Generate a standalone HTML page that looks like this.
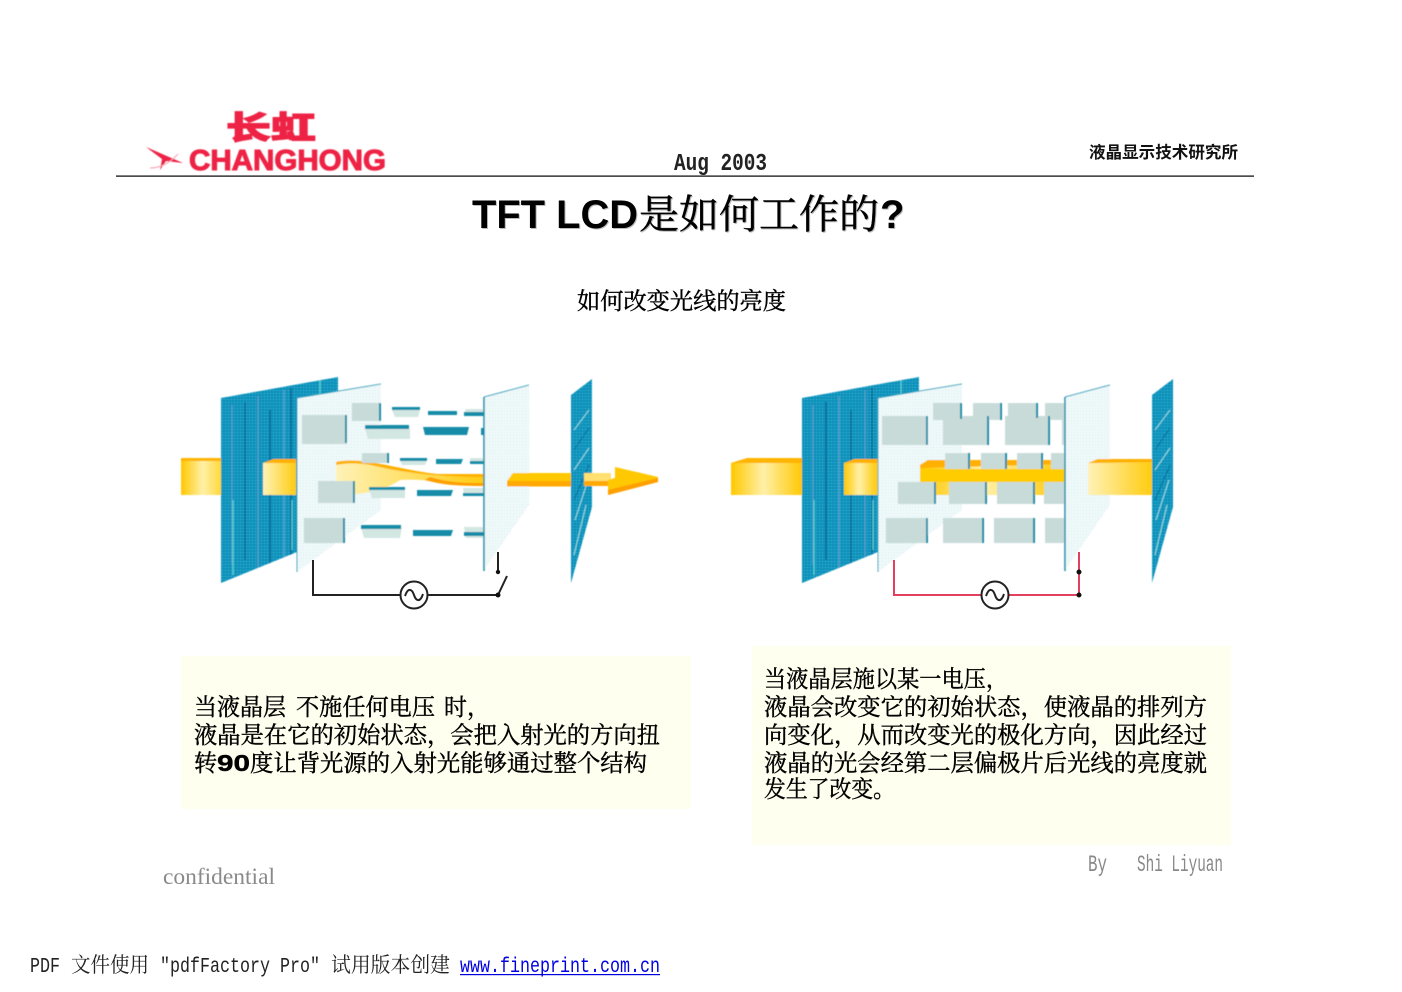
<!DOCTYPE html>
<html><head><meta charset="utf-8"><style>
html,body{margin:0;padding:0;background:#fff}
svg{display:block}
.cj{font-family:"Liberation Serif","Noto Serif CJK SC",serif;fill:#000;stroke:#000;stroke-width:.4}
.m{font-family:"Liberation Mono","Noto Serif CJK SC",monospace}
</style></head><body>
<svg xmlns="http://www.w3.org/2000/svg" width="1402" height="992" viewBox="0 0 1402 992">
<defs>
<pattern id="gd" width="3" height="3" patternUnits="userSpaceOnUse"><rect width="3" height="3" fill="#f4fbfb"/><rect width="1" height="1" fill="#c4e4e8"/><rect x="1.500" y="1.500" width="1" height="1" fill="#dcf0f2"/></pattern>
<pattern id="bd" width="3" height="3" patternUnits="userSpaceOnUse"><rect width="3" height="3" fill="#0790ba"/><rect width="1" height="1" fill="#3cc2dc"/></pattern>
<pattern id="kd" width="2" height="2" patternUnits="userSpaceOnUse"><rect width="2" height="2" fill="#cbdedb"/><rect width="1" height="1" fill="#bdd4d2"/></pattern>
<linearGradient id="y1" x1="0" x2="1" y1="0" y2="0"><stop offset="0" stop-color="#ffc800"/><stop offset=".55" stop-color="#fff0a8"/><stop offset="1" stop-color="#ffd93a"/></linearGradient>
<linearGradient id="y2" x1="0" x2="1" y1="0" y2="0"><stop offset="0" stop-color="#fff2b8"/><stop offset="1" stop-color="#ffcc10"/></linearGradient>
<linearGradient id="y3" x1="0" x2="1" y1="0" y2="0"><stop offset="0" stop-color="#ffc800"/><stop offset=".45" stop-color="#fff0a8"/><stop offset="1" stop-color="#ffc800"/></linearGradient>
<filter id="s" x="-5%" y="-5%" width="110%" height="110%"><feGaussianBlur stdDeviation=".4"/></filter>
<filter id="l" x="-5%" y="-20%" width="110%" height="140%"><feGaussianBlur stdDeviation=".6"/></filter>
<clipPath id="c1"><polygon points="221,398 338,377 338,392 297,552 221,583"/></clipPath>
<clipPath id="c2"><polygon points="802,398 919,377 919,392 878,552 802,583"/></clipPath>
</defs>
<rect width="1402" height="992" fill="#fff"/>

<!-- logo -->
<g filter="url(#l)" fill="#ee2244">
<text x="226" y="139" font-family="Noto Sans CJK SC,sans-serif" font-weight="900" font-size="32" textLength="90" lengthAdjust="spacingAndGlyphs" stroke="#ee2244" stroke-width="1">长虹</text>
<text x="189" y="170" font-family="Liberation Sans,sans-serif" font-weight="700" font-size="29" textLength="197" lengthAdjust="spacingAndGlyphs" stroke="#ee2244" stroke-width="1">CHANGHONG</text>
<polygon points="146,147 183,163 166,161 160,170 162,159"/>
<path d="M150 168 Q165 168 178 154" fill="none" stroke="#f4a0b0" stroke-width="1"/>
</g>
<rect x="116" y="175.500" width="1138" height="1.200" fill="#000"/>

<text x="674" y="170" class="m" font-size="24" textLength="93" lengthAdjust="spacingAndGlyphs" font-weight="700" fill="#222">Aug 2003</text>
<text x="1089" y="158" font-family="Noto Sans CJK SC,sans-serif" font-weight="700" font-size="16.500" textLength="149" lengthAdjust="spacingAndGlyphs" fill="#111">液晶显示技术研究所</text>

<g font-size="40" fill="#bbb">
<text x="473" y="229" font-family="Liberation Sans,sans-serif" font-weight="700" textLength="166" lengthAdjust="spacingAndGlyphs">TFT LCD</text>
<text x="640" y="229" font-family="Liberation Serif,'Noto Serif CJK SC',serif" textLength="240" lengthAdjust="spacingAndGlyphs" stroke="#bbb" stroke-width=".4">是如何工作的</text>
<text x="881" y="229" font-family="Liberation Sans,sans-serif" font-weight="700">?</text>
</g>
<g font-size="40" fill="#000">
<text x="472" y="228" font-family="Liberation Sans,sans-serif" font-weight="700" textLength="166" lengthAdjust="spacingAndGlyphs">TFT LCD</text>
<text x="639" y="228" font-family="Liberation Serif,'Noto Serif CJK SC',serif" textLength="240" lengthAdjust="spacingAndGlyphs" stroke="#000" stroke-width=".4">是如何工作的</text>
<text x="880" y="228" font-family="Liberation Sans,sans-serif" font-weight="700">?</text>
</g>
<text x="577" y="309" class="cj" font-size="23.200" textLength="209" lengthAdjust="spacingAndGlyphs">如何改变光线的亮度</text>

<!-- LEFT FIGURE -->
<g filter="url(#s)">
<polygon points="181,459 221,459 221,495 181,495" fill="url(#y1)"/>
<rect x="181" y="458" width="40" height="3" fill="#ffb400"/>
<polygon points="221,398 338,377 338,392 297,552 221,583" fill="url(#bd)"/>
<g stroke-width="1.300" fill="none" clip-path="url(#c1)">
<path d="M232 405V565M258 396V572M284 390V558" stroke="#5a9ccc"/>
<path d="M245 402V560M270 410V568M291 388V556" stroke="#0a5f90"/>
<path d="M233 500V575M292 500V550M320 380V400" stroke="#5fd0d0"/>
</g>
<polygon points="263,463 274,459 296,459 296,495 263,495" fill="url(#y2)"/>
<polygon points="263,463 274,459 296,459 296,463" fill="#ffb000"/>
<polygon points="297,398 381,384 381,510 297,572" fill="url(#gd)"/>
<path d="M297 398L381 384" stroke="#3aa6c0" stroke-width="1"/><path d="M297 398V572" stroke="#3aa6c0" stroke-width="1"/>
<path d="M336 462C362 456 400 470 437 474L484 474V486C450 486 430 478 400 480C385 490 365 495 336 495Z" fill="url(#y2)"/>
<path d="M336 462C362 456 400 470 437 474L484 474V477C450 477 410 474 380 467C360 462 345 463 336 465Z" fill="#ffb000"/>
<path d="M430 477C450 483 465 483 484 483V486C450 486 440 484 425 480Z" fill="#ff9f00"/>

<!-- left blocks -->
<g fill="url(#kd)">
<rect x="302" y="415" width="45" height="29"/><rect x="318" y="481" width="36" height="22"/><rect x="304" y="518" width="40" height="25"/><rect x="352" y="403" width="28" height="18"/><rect x="362" y="453" width="26" height="10"/>
</g>
<g fill="#128ca8">
<rect x="345" y="415" width="2" height="28"/><rect x="353" y="481" width="2" height="22"/><rect x="343" y="518" width="2" height="25"/><rect x="379" y="403" width="2" height="18"/><rect x="387" y="453" width="2" height="10"/>
</g>
<!-- dashes -->
<g fill="#d2e6e2">
<polygon points="392,410 420,410 418,417 395,417"/><polygon points="365,428 410,428 410,439 368,439"/><polygon points="400,460 427,460 425,465 402,465"/><polygon points="369,489 405,489 405,498 372,498"/><polygon points="361,527 402,527 400,538 364,538"/><polygon points="466,409 484,409 484,413 464,413"/><polygon points="463,488 484,488 484,495 464,495"/><polygon points="464,527 484,527 484,538 466,538"/><polygon points="470,458 484,458 484,464 470,464"/>
</g>
<g fill="#128ca8">
<rect x="392" y="407" width="28" height="3"/><rect x="428" y="411" width="29" height="4"/><rect x="464" y="412" width="20" height="4"/>
<rect x="365" y="425" width="44" height="4"/><polygon points="423,427 469,427 467,435 425,435"/><rect x="481" y="428" width="3" height="7"/>
<rect x="400" y="458" width="27" height="3"/><polygon points="436,459 463,459 461,464 436,464"/><rect x="470" y="461" width="14" height="3"/>
<rect x="369" y="487" width="36" height="3"/><polygon points="417,490 453,490 451,496 417,496"/><rect x="463" y="493" width="21" height="3"/>
<rect x="361" y="525" width="40" height="4"/><polygon points="413,530 453,530 451,536 413,536"/><rect x="464" y="532" width="20" height="4"/>
</g>
<polygon points="484,397 529,385 529,505 484,570" fill="url(#gd)"/>
<path d="M484 397L529 385" stroke="#3aa6c0" stroke-width="1"/><path d="M484 397V571" stroke="#128ca8" stroke-width="1.500"/>

<polygon points="507,481 513,473 571,473 571,486 507,486" fill="#ffc800"/>
<rect x="507" y="481" width="64" height="5.500" fill="#ffa800"/>
<polygon points="571,395 592,379 592,507 571,583" fill="url(#bd)"/>
<path d="M574 430L589 410M574 470L589 448M574 555L586 505M575 520L588 480" stroke="#9edde4" stroke-width="1" fill="none"/>
<path d="M574 450L589 428M574 500L589 465" stroke="#0a6d9a" stroke-width="1" fill="none"/>
<rect x="584" y="473" width="27" height="13" fill="#ffe070"/><rect x="584" y="481" width="27" height="5" fill="#ffa800"/>
<polygon points="615,467 658,477 658,482 608,495 608,480 615,478" fill="#ffc800"/>
<polygon points="608,490 658,478 658,482 608,495" fill="#ff9f00"/>
</g>
<g fill="none" stroke="#222" stroke-width="2">
<path d="M313 560V595H400M428 595H498L507 576"/><path d="M498 552V572" stroke-width="2"/>
<circle cx="414" cy="595" r="13.500"/><path d="M405 596C408 587 412 589 414 595C416 601 420 603 423 594"/>
</g>
<circle cx="498" cy="572" r="2.200" fill="#111"/><circle cx="498" cy="595" r="2.500" fill="#111"/>

<!-- RIGHT FIGURE -->
<g filter="url(#s)">
<polygon points="731,463 747,459 803,459 803,495 731,495" fill="url(#y3)"/>
<polygon points="731,463 747,458 803,458 803,463" fill="#ffb400"/>
<polygon points="802,398 919,377 919,392 878,552 802,583" fill="url(#bd)"/>
<g stroke-width="1.300" fill="none" clip-path="url(#c2)">
<path d="M813 405V565M839 396V572M865 390V558" stroke="#5a9ccc"/>
<path d="M826 402V560M851 410V568M872 388V556" stroke="#0a5f90"/>
<path d="M814 500V575M873 500V550M901 380V400" stroke="#5fd0d0"/>
</g>
<polygon points="844,463 855,459 878,459 878,495 844,495" fill="url(#y3)"/>
<polygon points="844,463 855,459 878,459 878,463" fill="#ffb000"/>
<polygon points="878,398 962,384 962,510 878,572" fill="url(#gd)"/>
<path d="M878 398L962 384" stroke="#3aa6c0" stroke-width="1"/><path d="M878 398V572" stroke="#3aa6c0" stroke-width="1"/>
<polygon points="920,465 928,460 1065,460 1065,495 920,495" fill="url(#y3)"/>
<rect x="920" y="469" width="145" height="13" fill="#ffcc00"/>
<polygon points="920,465 928,460 1065,460 1065,464 920,468" fill="#ffb000"/>
<g fill="url(#kd)">
<rect x="933" y="403" width="28" height="17"/><rect x="973" y="403" width="28" height="17"/><rect x="1008" y="403" width="28" height="17"/><rect x="1045" y="403" width="20" height="17"/>
<rect x="882" y="416" width="46" height="29"/><rect x="943" y="416" width="45" height="29"/><rect x="1005" y="416" width="44" height="29"/><rect x="1062" y="416" width="3" height="29"/>
<rect x="945" y="453" width="24" height="16"/><rect x="981" y="453" width="25" height="16"/><rect x="1017" y="453" width="25" height="16"/><rect x="1051" y="453" width="14" height="16"/>
<rect x="898" y="482" width="37" height="22"/><rect x="949" y="482" width="37" height="22"/><rect x="997" y="482" width="37" height="22"/><rect x="1044" y="482" width="21" height="22"/>
<rect x="886" y="518" width="41" height="25"/><rect x="943" y="518" width="40" height="25"/><rect x="994" y="518" width="40" height="25"/><rect x="1045" y="518" width="20" height="25"/>
</g>
<g fill="#128ca8">
<rect x="960" y="403" width="2" height="16"/><rect x="1000" y="403" width="2" height="17"/><rect x="1036" y="403" width="2" height="15"/>
<rect x="926" y="416" width="2" height="29"/><rect x="987" y="416" width="2" height="29"/><rect x="1048" y="416" width="2" height="29"/>
<rect x="968" y="453" width="2" height="16"/><rect x="1005" y="453" width="2" height="16"/><rect x="1041" y="453" width="2" height="16"/>
<rect x="934" y="482" width="2" height="22"/><rect x="985" y="482" width="2" height="22"/><rect x="1033" y="482" width="2" height="22"/>
<rect x="926" y="518" width="2" height="25"/><rect x="982" y="518" width="2" height="25"/><rect x="1033" y="518" width="2" height="25"/>
</g>
<polygon points="1065,397 1110,385 1110,505 1065,570" fill="url(#gd)"/>
<path d="M1065 397L1110 385" stroke="#3aa6c0" stroke-width="1"/><path d="M1065 397V571" stroke="#128ca8" stroke-width="1.500"/>
<polygon points="1088,463 1098,459 1152,459 1152,495 1088,495" fill="url(#y2)"/>
<polygon points="1088,463 1098,459 1152,459 1152,462 1090,463" fill="#ffb000"/>
<polygon points="1152,395 1173,379 1173,507 1152,583" fill="url(#bd)"/>
<path d="M1155 430L1170 410M1155 470L1170 448M1155 555L1167 505M1156 520L1169 480" stroke="#9edde4" stroke-width="1" fill="none"/>
<path d="M1155 450L1170 428M1155 500L1170 465" stroke="#0a6d9a" stroke-width="1" fill="none"/>
</g>
<g fill="none" stroke="#e2405e" stroke-width="2">
<path d="M894 560V595H981M1009 595H1079V552"/>
</g>
<g fill="none" stroke="#222" stroke-width="2">
<circle cx="995" cy="595" r="13.500"/><path d="M986 596C989 587 993 589 995 595C997 601 1001 603 1004 594"/>
</g>
<circle cx="1079" cy="572" r="2.500" fill="#111"/><circle cx="1079" cy="595" r="2.500" fill="#111"/>

<!-- text boxes -->
<rect x="181" y="656" width="510" height="153" fill="#ffffef"/>
<rect x="752" y="646" width="479" height="199" fill="#ffffef"/>
<g font-size="23.200">
<text x="194" y="715" class="cj" textLength="92" lengthAdjust="spacingAndGlyphs">当液晶层</text>
<text x="296" y="715" class="cj" textLength="139" lengthAdjust="spacingAndGlyphs">不施任何电压</text>
<text x="444" y="715" class="cj" textLength="46" lengthAdjust="spacingAndGlyphs">时，</text>
<text x="194" y="743" class="cj" textLength="466" lengthAdjust="spacingAndGlyphs">液晶是在它的初始状态，会把入射光的方向扭</text>
<text x="194" y="771" class="cj">转</text>
<text x="217" y="771" font-family="Liberation Sans,sans-serif" font-weight="700" fill="#000" stroke="#000" stroke-width=".4" textLength="33" lengthAdjust="spacingAndGlyphs">90</text>
<text x="250" y="771" class="cj" textLength="397" lengthAdjust="spacingAndGlyphs">度让背光源的入射光能够通过整个结构</text>
<text x="764" y="687" class="cj" textLength="244" lengthAdjust="spacingAndGlyphs">当液晶层施以某一电压，</text>
<text x="764" y="715" class="cj" textLength="443" lengthAdjust="spacingAndGlyphs">液晶会改变它的初始状态，使液晶的排列方</text>
<text x="764" y="743" class="cj" textLength="443" lengthAdjust="spacingAndGlyphs">向变化，从而改变光的极化方向，因此经过</text>
<text x="764" y="771" class="cj" textLength="443" lengthAdjust="spacingAndGlyphs">液晶的光会经第二层偏极片后光线的亮度就</text>
<text x="764" y="797" class="cj" textLength="131" lengthAdjust="spacingAndGlyphs">发生了改变。</text>
</g>
<text x="163" y="884" font-family="Liberation Serif,serif" font-size="23" textLength="112" lengthAdjust="spacingAndGlyphs" fill="#8a8a8a">confidential</text>
<text x="1088" y="871" font-family="Liberation Mono,monospace" font-size="23" textLength="19" lengthAdjust="spacingAndGlyphs" fill="#888">By</text>
<text x="1137" y="871" font-family="Liberation Mono,monospace" font-size="23" textLength="86" lengthAdjust="spacingAndGlyphs" fill="#888">Shi Liyuan</text>

<!-- footer -->
<g font-size="21" fill="#222">
<text x="30" y="972" class="m" textLength="30" lengthAdjust="spacingAndGlyphs">PDF</text>
<text x="71" y="972" class="m" textLength="78" lengthAdjust="spacingAndGlyphs">文件使用</text>
<text x="160" y="972" class="m" textLength="160" lengthAdjust="spacingAndGlyphs">"pdfFactory Pro"</text>
<text x="331" y="972" class="m" textLength="119" lengthAdjust="spacingAndGlyphs">试用版本创建</text>
<text x="460" y="972" class="m" textLength="200" lengthAdjust="spacingAndGlyphs" fill="#0000e0">www.fineprint.com.cn</text>
</g>
<rect x="460" y="974" width="200" height="1.200" fill="#0000e0"/>
</svg>
</body></html>
